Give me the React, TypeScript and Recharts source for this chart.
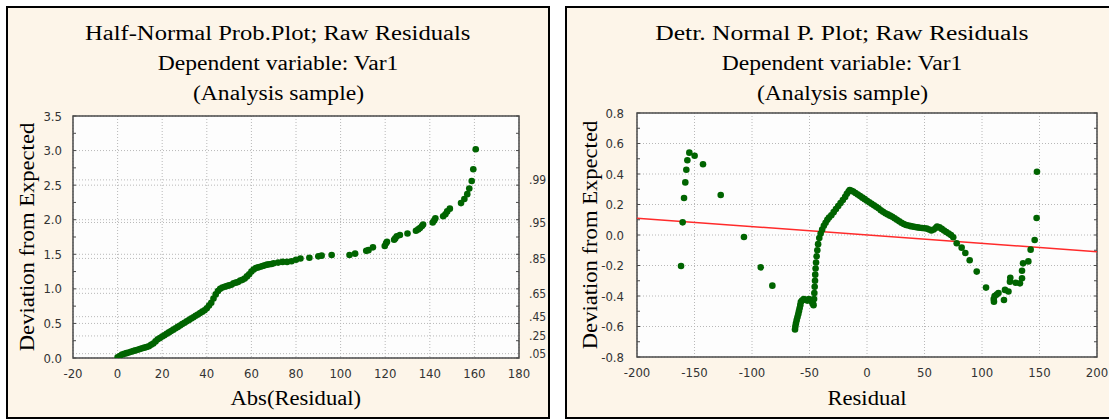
import React from 'react';
import {
  CartesianGrid,
  ReferenceArea,
  ReferenceLine,
  Scatter,
  ScatterChart,
  XAxis,
  YAxis,
} from 'recharts';

// Half-normal probability plot: abs(residual) vs expected half-normal value
const halfAbsResidual = [
  0, 1, 2, 3, 4, 5, 6, 7, 8, 9, 10, 11, 12, 13, 14, 15, 16, 17, 18, 19, 20,
  21, 22, 23, 24, 25, 26, 27, 28, 29, 30, 31, 32, 33, 34, 35, 36, 37, 38, 39,
  40, 41, 42, 43, 44, 45, 46, 47, 48, 49, 50, 51, 52, 53, 54, 55, 56, 57, 58,
  59, 60, 61, 62, 63, 64, 65, 66, 67, 68, 69, 70, 72, 74, 76, 78, 80, 82, 86,
  90, 91.5, 96, 104, 106.5, 111.5, 112.5, 114.5, 119.8, 120.4, 120.8, 124,
  124.5, 125.2, 126.6, 130, 133.8, 134.8, 135.6, 136.5, 137, 141.3, 142, 142.5,
  146, 147, 147.8, 149, 154, 155.5, 156.8, 157.7, 158.8, 159.5, 160.6,
];
const halfDeviation = [
  0.01, 0.03, 0.05, 0.06, 0.07, 0.08, 0.09, 0.1, 0.11, 0.12, 0.13, 0.14, 0.15,
  0.16, 0.17, 0.19, 0.21, 0.24, 0.27, 0.29, 0.31, 0.33, 0.35, 0.37, 0.39, 0.41,
  0.43, 0.45, 0.47, 0.49, 0.51, 0.53, 0.55, 0.57, 0.59, 0.61, 0.63, 0.65, 0.67,
  0.69, 0.72, 0.76, 0.8, 0.86, 0.92, 0.97, 1.0, 1.02, 1.03, 1.04, 1.05, 1.06,
  1.08, 1.09, 1.1, 1.12, 1.13, 1.15, 1.18, 1.21, 1.25, 1.28, 1.3, 1.31, 1.32,
  1.33, 1.34, 1.35, 1.355, 1.36, 1.37, 1.38, 1.39, 1.39, 1.4, 1.42, 1.44, 1.45,
  1.47, 1.48, 1.49, 1.49, 1.51, 1.55, 1.56, 1.6, 1.62, 1.66, 1.68, 1.71, 1.73,
  1.76, 1.78, 1.8, 1.84, 1.86, 1.88, 1.91, 1.93, 1.96, 1.99, 2.02, 2.05, 2.08,
  2.12, 2.16, 2.24, 2.3, 2.37, 2.45, 2.56, 2.73, 3.02,
];
const halfXTicks = [-20, 0, 20, 40, 60, 80, 100, 120, 140, 160, 180];
const halfYTicks = [0, 0.5, 1, 1.5, 2, 2.5, 3, 3.5];
const halfProbTicks = [0.063, 0.319, 0.598, 0.935, 1.44, 1.96, 2.576];
const halfProbLabels = ['.05', '.25', '.45', '.65', '.85', '.95', '.99'];

// Detrended normal plot: residual vs deviation from expected
const detrResidual = [
  -161.7, -160.3, -159.1, -158, -157.1, -156.2, -154.5, -149.9, -142.6, -127.2,
  -107, -92.4, -82.3, -62.6, -62.3, -61.8, -61.2, -60.5, -59.8, -59.2, -58.6,
  -58, -57.5, -56.5, -55, -53.5, -52, -50.5, -49, -48, -47, -46.5, -46, -45.8,
  -45.5, -45.2, -45, -44.7, -44.3, -43.8, -43.2, -42.5, -41.5, -40.3, -39,
  -37.5, -36, -34.5, -33, -31, -29, -27, -25, -23, -21, -19, -17.5, -16, -15,
  -13.5, -12, -10, -8, -6, -4, -2, 0, 2, 4, 6, 8, 10, 12, 14, 16, 18, 20, 22,
  24, 26, 28, 30, 32, 34, 36, 38, 40, 42, 44, 46, 48, 50, 52, 54, 56, 58, 60,
  61, 63, 65, 67, 69, 71, 73, 75, 78, 82.3, 85.5, 89.3, 95.4, 103.5, 110.2,
  110.4, 111, 112.8, 114.3, 119.1, 120, 123, 124.3, 124.6, 129.3, 133, 134.8,
  134.8, 135.7, 140.3, 142.3, 145.8, 147.5, 147.8,
];
const detrDeviation = [
  -0.203, 0.083, 0.243, 0.345, 0.428, 0.49, 0.54, 0.52, 0.464, 0.262, -0.013,
  -0.212, -0.332, -0.62, -0.6, -0.58, -0.56, -0.54, -0.52, -0.5, -0.48, -0.46,
  -0.44, -0.43, -0.42, -0.425, -0.43, -0.42, -0.43, -0.44, -0.45, -0.46, -0.42,
  -0.38, -0.34, -0.3, -0.26, -0.22, -0.18, -0.14, -0.1, -0.06, -0.02, 0.01,
  0.035, 0.06, 0.08, 0.1, 0.115, 0.13, 0.15, 0.17, 0.19, 0.21, 0.23, 0.25, 0.27,
  0.285, 0.295, 0.29, 0.285, 0.275, 0.265, 0.255, 0.245, 0.235, 0.225, 0.215,
  0.205, 0.195, 0.185, 0.175, 0.162, 0.152, 0.143, 0.135, 0.127, 0.12, 0.11,
  0.1, 0.09, 0.08, 0.072, 0.066, 0.062, 0.058, 0.055, 0.052, 0.05, 0.048, 0.046,
  0.044, 0.042, 0.036, 0.03, 0.036, 0.048, 0.055, 0.05, 0.04, 0.03, 0.02, 0.01,
  0, -0.015, -0.054, -0.083, -0.118, -0.166, -0.24, -0.345, -0.42, -0.437,
  -0.4, -0.39, -0.38, -0.426, -0.36, -0.37, -0.306, -0.28, -0.313, -0.317,
  -0.284, -0.234, -0.186, -0.173, -0.096, -0.033, 0.111, 0.415,
];
const detrXTicks = [-200, -150, -100, -50, 0, 50, 100, 150, 200];
const detrYTicks = [-0.8, -0.6, -0.4, -0.2, 0, 0.2, 0.4, 0.6, 0.8];
const detrFitX = [-200, 200];
const detrFitY = [0.11, -0.11];

const steps = (from: number, to: number, step: number) => {
  const out: number[] = [];
  for (let v = from; v <= to + 1e-9; v += step) out.push(Math.round(v * 1000) / 1000);
  return out;
};

const halfData = halfAbsResidual.map((x, i) => ({ x, y: halfDeviation[i] }));
const detrData = detrResidual.map((x, i) => ({ x, y: detrDeviation[i] }));

const serif = "'Liberation Serif', 'Times New Roman', serif";
const tickFont =
  "'Liberation Sans Narrow', 'DejaVu Sans Condensed', 'Liberation Sans', sans-serif";
const panelBg = '#FDF5E9';
const dotColor = '#006400';
const gridColor = '#B8B8B8';
const frameColor = '#4A4A4A';

const tickStyle = { fontSize: 13, fill: '#333', fontFamily: tickFont };
const noLabel = () => <g />;

const Dot = (props: any) => (
  <circle cx={props.cx} cy={props.cy} r={3.3} fill={dotColor} />
);

const Stretch = ({ text, scale }: { text: string; scale: number }) => (
  <span
    style={{
      display: 'inline-block',
      whiteSpace: 'nowrap',
      transform: `scaleX(${scale})`,
    }}
  >
    {text}
  </span>
);

function Titles({ lines, scales }: { lines: string[]; scales: number[] }) {
  return (
    <div
      style={{
        position: 'absolute',
        left: 0,
        right: 0,
        top: 10,
        textAlign: 'center',
        fontFamily: serif,
        fontSize: 20,
        lineHeight: '30px',
        color: '#000',
        zIndex: 2,
      }}
    >
      {lines.map((l, i) => (
        <div key={l}>
          <Stretch text={l} scale={scales[i]} />
        </div>
      ))}
    </div>
  );
}

function AxisTitles({
  xTitle,
  yTitle,
  plotLeft,
  plotWidth,
  xTop,
  yX,
  yY,
}: {
  xTitle: string;
  yTitle: string;
  plotLeft: number;
  plotWidth: number;
  xTop: number;
  yX: number;
  yY: number;
}) {
  const font = { fontFamily: serif, fontSize: 20, lineHeight: '30px', color: '#000' };
  return (
    <>
      <div
        style={{
          ...font,
          position: 'absolute',
          left: plotLeft,
          width: plotWidth,
          top: xTop,
          textAlign: 'center',
          zIndex: 2,
        }}
      >
        <Stretch text={xTitle} scale={1.13} />
      </div>
      <div
        style={{
          ...font,
          position: 'absolute',
          left: yX,
          top: yY,
          whiteSpace: 'nowrap',
          transform: 'translate(-50%, -50%) rotate(-90deg) scaleX(1.13)',
          zIndex: 2,
        }}
      >
        {yTitle}
      </div>
    </>
  );
}

const boxStyle = (left: number, width: number): React.CSSProperties => ({
  position: 'absolute',
  left,
  top: 6,
  width,
  height: 413,
  boxSizing: 'border-box',
  border: '2px solid #000',
  background: panelBg,
  overflow: 'hidden',
});

// hidden-label axis that only draws short inward tick marks
const minorAxisProps = {
  type: 'number' as const,
  interval: 0 as const,
  mirror: true,
  allowDataOverflow: true,
  axisLine: false,
  tickSize: 3,
  stroke: frameColor,
  tick: noLabel,
};

function HalfNormalChart() {
  return (
    <div style={boxStyle(6, 544)}>
      <Titles
        lines={[
          'Half-Normal Prob.Plot; Raw Residuals',
          'Dependent variable: Var1',
          '(Analysis sample)',
        ]}
        scales={[1.23, 1.18, 1.18]}
      />
      <div style={{ position: 'absolute', left: 0, top: 0 }}>
        <ScatterChart
          width={540}
          height={409}
          margin={{ top: 108, right: 4, bottom: 29, left: 15 }}
        >
          <CartesianGrid
            fill='#FDFDFD'
            stroke={gridColor}
            strokeDasharray='1 2'
            horizontalValues={[...halfYTicks, ...halfProbTicks]}
            verticalValues={halfXTicks}
          />
          <XAxis
            type='number'
            dataKey='x'
            domain={[-20, 180]}
            allowDataOverflow
            ticks={halfXTicks}
            interval={0}
            height={30}
            axisLine={false}
            tickLine={false}
            tickMargin={5}
            tick={tickStyle}
          />
          <XAxis
            xAxisId='minorBottom'
            domain={[-20, 180]}
            ticks={steps(-20, 180, 5)}
            {...minorAxisProps}
          />
          <XAxis
            xAxisId='minorTop'
            orientation='top'
            domain={[-20, 180]}
            ticks={steps(-20, 180, 5)}
            {...minorAxisProps}
          />
          <YAxis
            type='number'
            dataKey='y'
            domain={[0, 3.5]}
            allowDataOverflow
            ticks={halfYTicks}
            interval={0}
            width={50}
            axisLine={false}
            tickLine={false}
            tickMargin={5}
            tick={tickStyle}
            tickFormatter={(v: number) => v.toFixed(1)}
          />
          <YAxis
            yAxisId='prob'
            orientation='right'
            type='number'
            domain={[0, 3.5]}
            allowDataOverflow
            ticks={halfProbTicks}
            interval={0}
            width={25}
            axisLine={false}
            tickLine={false}
            tickMargin={4}
            tick={{ ...tickStyle, fontSize: 12 }}
            tickFormatter={(v: number) => halfProbLabels[halfProbTicks.indexOf(v)]}
          />
          <YAxis
            yAxisId='minorLeft'
            domain={[0, 3.5]}
            ticks={steps(0, 3.5, 0.25)}
            {...minorAxisProps}
          />
          <YAxis
            yAxisId='minorRight'
            orientation='right'
            domain={[0, 3.5]}
            ticks={steps(0, 3.5, 0.25)}
            {...minorAxisProps}
          />
          <Scatter
            data={halfData}
            shape={Dot}
            isAnimationActive={false}
          />
          <ReferenceArea
            x1={-20}
            x2={180}
            y1={0}
            y2={3.5}
            fill='none'
            fillOpacity={0}
            stroke={frameColor}
            strokeWidth={1.5}
          />
        </ScatterChart>
      </div>
      <AxisTitles
        xTitle='Abs(Residual)'
        yTitle='Deviation from Expected'
        plotLeft={65}
        plotWidth={446}
        xTop={375}
        yX={19}
        yY={229}
      />
    </div>
  );
}

function DetrendedChart() {
  return (
    <div style={boxStyle(565, 554)}>
      <Titles
        lines={[
          'Detr. Normal P. Plot; Raw Residuals',
          'Dependent variable: Var1',
          '(Analysis sample)',
        ]}
        scales={[1.28, 1.18, 1.18]}
      />
      <div style={{ position: 'absolute', left: 0, top: 0 }}>
        <ScatterChart
          width={550}
          height={409}
          margin={{ top: 105, right: 20, bottom: 30, left: 20 }}
        >
          <CartesianGrid
            fill='#FDFDFD'
            stroke={gridColor}
            strokeDasharray='1 2'
            horizontalValues={detrYTicks}
            verticalValues={detrXTicks}
          />
          <XAxis
            type='number'
            dataKey='x'
            domain={[-200, 200]}
            allowDataOverflow
            ticks={detrXTicks}
            interval={0}
            height={30}
            axisLine={false}
            tickLine={false}
            tickMargin={5}
            tick={tickStyle}
          />
          <XAxis
            xAxisId='minorBottom'
            domain={[-200, 200]}
            ticks={steps(-200, 200, 12.5)}
            {...minorAxisProps}
          />
          <XAxis
            xAxisId='minorTop'
            orientation='top'
            domain={[-200, 200]}
            ticks={steps(-200, 200, 12.5)}
            {...minorAxisProps}
          />
          <YAxis
            type='number'
            dataKey='y'
            domain={[-0.8, 0.8]}
            allowDataOverflow
            ticks={detrYTicks}
            interval={0}
            width={50}
            axisLine={false}
            tickLine={false}
            tickMargin={7}
            tick={tickStyle}
            tickFormatter={(v: number) => v.toFixed(1)}
          />
          <YAxis
            yAxisId='minorLeft'
            domain={[-0.8, 0.8]}
            ticks={steps(-0.8, 0.8, 0.1)}
            {...minorAxisProps}
          />
          <YAxis
            yAxisId='minorRight'
            orientation='right'
            domain={[-0.8, 0.8]}
            ticks={steps(-0.8, 0.8, 0.1)}
            {...minorAxisProps}
          />
          <ReferenceLine
            segment={[
              { x: detrFitX[0], y: detrFitY[0] },
              { x: detrFitX[1], y: detrFitY[1] },
            ]}
            stroke='#FF2A2A'
            strokeWidth={1.5}
          />
          <Scatter
            data={detrData}
            shape={Dot}
            isAnimationActive={false}
          />
          <ReferenceArea
            x1={-200}
            x2={200}
            y1={-0.8}
            y2={0.8}
            fill='none'
            fillOpacity={0}
            stroke={frameColor}
            strokeWidth={1.5}
          />
        </ScatterChart>
      </div>
      <AxisTitles
        xTitle='Residual'
        yTitle='Deviation from Expected'
        plotLeft={70}
        plotWidth={460}
        xTop={375}
        yX={23}
        yY={227}
      />
    </div>
  );
}

export default function App() {
  return (
    <div
      style={{
        position: 'absolute',
        left: 0,
        top: 0,
        width: 1109,
        height: 419,
        background: '#fff',
        overflow: 'hidden',
      }}
    >
      <HalfNormalChart />
      <DetrendedChart />
    </div>
  );
}
